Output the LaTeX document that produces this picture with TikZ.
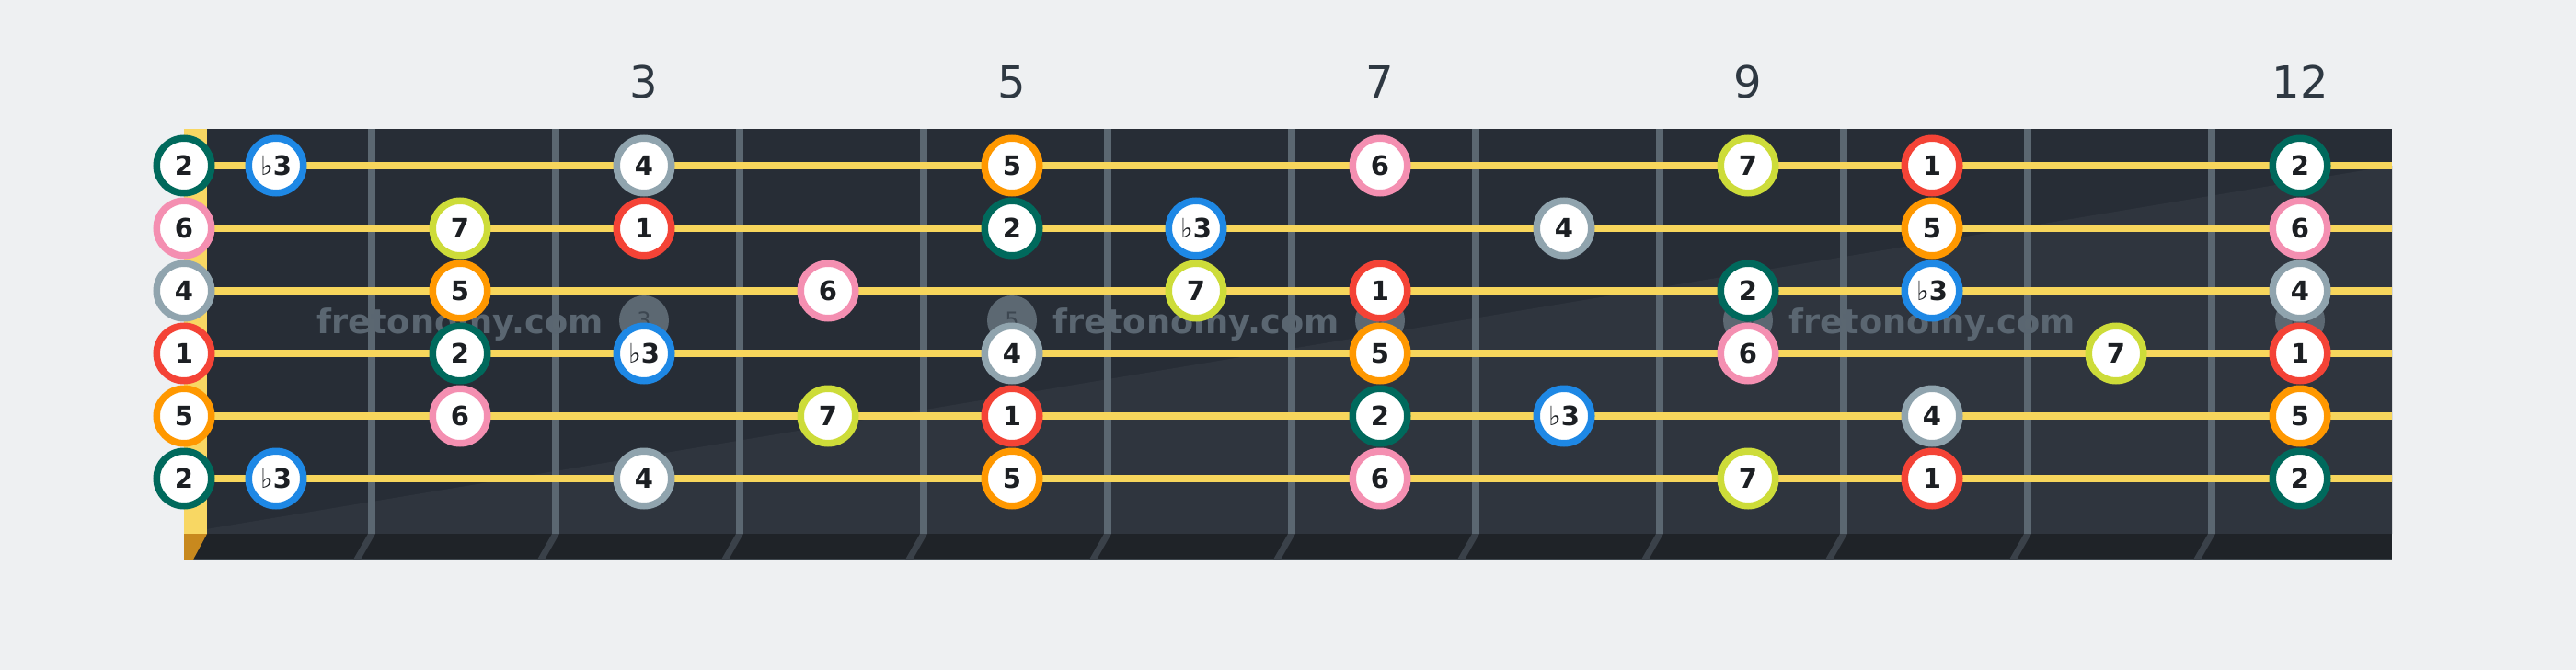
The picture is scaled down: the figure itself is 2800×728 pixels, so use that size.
\documentclass[tikz,border=0pt]{standalone}
\usepackage{fontspec}
\setmainfont{DejaVu Sans}
\usepackage{tikz}

\definecolor{bgcol}{HTML}{EEF0F2}
\definecolor{boardcol}{HTML}{272D36}
\definecolor{boardlight}{HTML}{2F353E}
\definecolor{bottomcol}{HTML}{1F2328}
\definecolor{fretcol}{HTML}{5B6771}
\definecolor{fretshadow}{HTML}{3A4149}
\definecolor{stringcol}{HTML}{F7D65C}
\definecolor{nutcol}{HTML}{F8D763}
\definecolor{nutbottom}{HTML}{C8891E}
\definecolor{inlaycol}{HTML}{5C6872}
\definecolor{inlaytext}{HTML}{3D4751}
\definecolor{labelcol}{HTML}{2E3842}
\definecolor{wmcol}{HTML}{5A6671}
\definecolor{notetext}{HTML}{1C1F23}
\definecolor{degone}{HTML}{F44336}
\definecolor{degtwo}{HTML}{00695C}
\definecolor{degthree}{HTML}{1E88E5}
\definecolor{degfour}{HTML}{90A4AE}
\definecolor{degfive}{HTML}{FF9800}
\definecolor{degsix}{HTML}{F48FB1}
\definecolor{degseven}{HTML}{CDDC39}

\newcommand{\noteflat}{\textmd{♭}}

\tikzset{
  note/.style={circle, fill=white, line width=7.5pt, minimum size=59.5pt, text=notetext, font=\fontsize{29}{29}\selectfont\bfseries},
  deg1/.style={note, draw=degone},
  deg2/.style={note, draw=degtwo},
  degb3/.style={note, draw=degthree},
  deg4/.style={note, draw=degfour},
  deg5/.style={note, draw=degfive},
  deg6/.style={note, draw=degsix},
  deg7/.style={note, draw=degseven},
  inlay/.style={circle, fill=inlaycol, minimum size=54pt, text=inlaytext, font=\fontsize{24}{24}\selectfont},
  fretnum/.style={text=labelcol, font=\fontsize{48}{48}\selectfont},
  wmark/.style={anchor=base, text=wmcol, font=\fontsize{36.7}{37}\selectfont\bfseries},
  guitarstring/.style={draw=stringcol, line width=7.5pt}
}

\begin{document}
\begin{tikzpicture}[x=1pt,y=1pt]
\tikzstyle{every node}+=[inner sep=0pt]
\fill [bgcol] (0,0) rectangle (2800,-728);
\useasboundingbox (0,0) rectangle (2800,-728);
\fill [boardcol] (200,-140) rectangle (2600,-580);
\fill [boardlight] (224,-575) -- (2600,-180) -- (2600,-580) -- (224,-580) -- cycle;
\fill [bottomcol] (200,-580) rectangle (2600,-608);
\draw [fretcol!70!black, line width=1.2pt] (200,-608) -- (2600,-608);
\fill [nutcol] (200,-140) rectangle (225,-580);
\fill [nutbottom] (200,-580) -- (225,-580) -- (210,-608) -- (200,-608) -- cycle;
\fill [fretcol] (400,-140) rectangle (408,-580);
\fill [fretcol] (600,-140) rectangle (608,-580);
\fill [fretcol] (800,-140) rectangle (808,-580);
\fill [fretcol] (1000,-140) rectangle (1008,-580);
\fill [fretcol] (1200,-140) rectangle (1208,-580);
\fill [fretcol] (1400,-140) rectangle (1408,-580);
\fill [fretcol] (1600,-140) rectangle (1608,-580);
\fill [fretcol] (1800,-140) rectangle (1808,-580);
\fill [fretcol] (2000,-140) rectangle (2008,-580);
\fill [fretcol] (2200,-140) rectangle (2208,-580);
\fill [fretcol] (2400,-140) rectangle (2408,-580);
\fill [fretshadow] (400,-580) -- (408,-580) -- (392,-608) -- (384,-608) -- cycle;
\fill [fretshadow] (600,-580) -- (608,-580) -- (592,-608) -- (584,-608) -- cycle;
\fill [fretshadow] (800,-580) -- (808,-580) -- (792,-608) -- (784,-608) -- cycle;
\fill [fretshadow] (1000,-580) -- (1008,-580) -- (992,-608) -- (984,-608) -- cycle;
\fill [fretshadow] (1200,-580) -- (1208,-580) -- (1192,-608) -- (1184,-608) -- cycle;
\fill [fretshadow] (1400,-580) -- (1408,-580) -- (1392,-608) -- (1384,-608) -- cycle;
\fill [fretshadow] (1600,-580) -- (1608,-580) -- (1592,-608) -- (1584,-608) -- cycle;
\fill [fretshadow] (1800,-580) -- (1808,-580) -- (1792,-608) -- (1784,-608) -- cycle;
\fill [fretshadow] (2000,-580) -- (2008,-580) -- (1992,-608) -- (1984,-608) -- cycle;
\fill [fretshadow] (2200,-580) -- (2208,-580) -- (2192,-608) -- (2184,-608) -- cycle;
\fill [fretshadow] (2400,-580) -- (2408,-580) -- (2392,-608) -- (2384,-608) -- cycle;
\node [inlay] (in3) at (700,-348) {3};
\node [inlay] (in5) at (1100,-348) {5};
\node [inlay] (in7) at (1500,-348) {7};
\node [inlay] (in9) at (1900,-348) {9};
\node [inlay] (in12) at (2500,-348) {12};
\node [fretnum] (lab3) at (700,-89) {3};
\node [fretnum] (lab5) at (1100,-89) {5};
\node [fretnum] (lab7) at (1500,-89) {7};
\node [fretnum] (lab9) at (1900,-89) {9};
\node [fretnum] (lab12) at (2500,-89) {12};
\coordinate (nut1) at (225,-180);
\coordinate (nut2) at (225,-248);
\coordinate (nut3) at (225,-316);
\coordinate (nut4) at (225,-384);
\coordinate (nut5) at (225,-452);
\coordinate (nut6) at (225,-520);
\coordinate (end1) at (2600,-180);
\coordinate (end2) at (2600,-248);
\coordinate (end3) at (2600,-316);
\coordinate (end4) at (2600,-384);
\coordinate (end5) at (2600,-452);
\coordinate (end6) at (2600,-520);
\draw [guitarstring] (nut1) -- (end1);
\draw [guitarstring] (nut2) -- (end2);
\draw [guitarstring] (nut3) -- (end3);
\draw [guitarstring] (nut4) -- (end4);
\draw [guitarstring] (nut5) -- (end5);
\draw [guitarstring] (nut6) -- (end6);
\node [wmark] (wm1) at (500,-362) {fretonomy.com};
\node [wmark] (wm2) at (1300,-362) {fretonomy.com};
\node [wmark] (wm3) at (2100,-362) {fretonomy.com};
\node [deg2] (s1f0) at (200,-180) {2};
\node [degb3] (s1f1) at (300,-180) {\noteflat3};
\node [deg4] (s1f3) at (700,-180) {4};
\node [deg5] (s1f5) at (1100,-180) {5};
\node [deg6] (s1f7) at (1500,-180) {6};
\node [deg7] (s1f9) at (1900,-180) {7};
\node [deg1] (s1f10) at (2100,-180) {1};
\node [deg2] (s1f12) at (2500,-180) {2};
\node [deg6] (s2f0) at (200,-248) {6};
\node [deg7] (s2f2) at (500,-248) {7};
\node [deg1] (s2f3) at (700,-248) {1};
\node [deg2] (s2f5) at (1100,-248) {2};
\node [degb3] (s2f6) at (1300,-248) {\noteflat3};
\node [deg4] (s2f8) at (1700,-248) {4};
\node [deg5] (s2f10) at (2100,-248) {5};
\node [deg6] (s2f12) at (2500,-248) {6};
\node [deg4] (s3f0) at (200,-316) {4};
\node [deg5] (s3f2) at (500,-316) {5};
\node [deg6] (s3f4) at (900,-316) {6};
\node [deg7] (s3f6) at (1300,-316) {7};
\node [deg1] (s3f7) at (1500,-316) {1};
\node [deg2] (s3f9) at (1900,-316) {2};
\node [degb3] (s3f10) at (2100,-316) {\noteflat3};
\node [deg4] (s3f12) at (2500,-316) {4};
\node [deg1] (s4f0) at (200,-384) {1};
\node [deg2] (s4f2) at (500,-384) {2};
\node [degb3] (s4f3) at (700,-384) {\noteflat3};
\node [deg4] (s4f5) at (1100,-384) {4};
\node [deg5] (s4f7) at (1500,-384) {5};
\node [deg6] (s4f9) at (1900,-384) {6};
\node [deg7] (s4f11) at (2300,-384) {7};
\node [deg1] (s4f12) at (2500,-384) {1};
\node [deg5] (s5f0) at (200,-452) {5};
\node [deg6] (s5f2) at (500,-452) {6};
\node [deg7] (s5f4) at (900,-452) {7};
\node [deg1] (s5f5) at (1100,-452) {1};
\node [deg2] (s5f7) at (1500,-452) {2};
\node [degb3] (s5f8) at (1700,-452) {\noteflat3};
\node [deg4] (s5f10) at (2100,-452) {4};
\node [deg5] (s5f12) at (2500,-452) {5};
\node [deg2] (s6f0) at (200,-520) {2};
\node [degb3] (s6f1) at (300,-520) {\noteflat3};
\node [deg4] (s6f3) at (700,-520) {4};
\node [deg5] (s6f5) at (1100,-520) {5};
\node [deg6] (s6f7) at (1500,-520) {6};
\node [deg7] (s6f9) at (1900,-520) {7};
\node [deg1] (s6f10) at (2100,-520) {1};
\node [deg2] (s6f12) at (2500,-520) {2};
\end{tikzpicture}
\end{document}
